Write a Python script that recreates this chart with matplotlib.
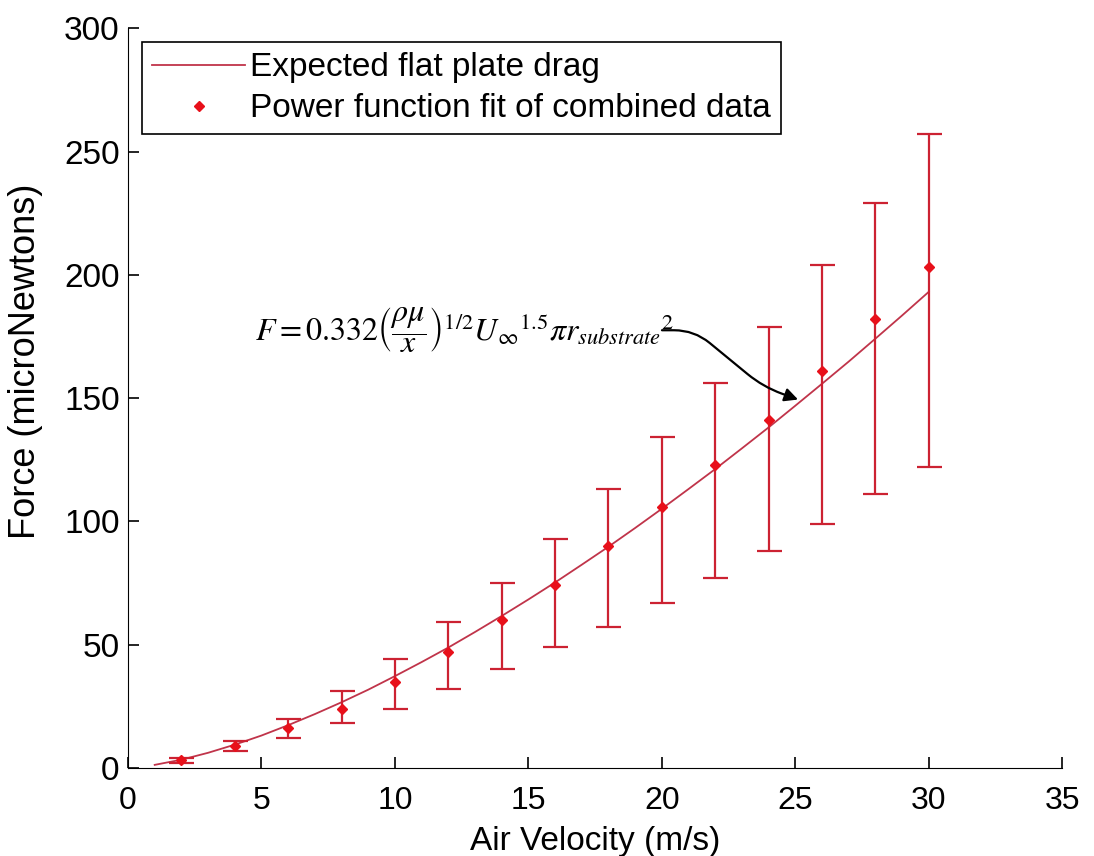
import matplotlib
matplotlib.use("Agg")
import matplotlib.pyplot as plt

plt.rcParams['font.family'] = ['Liberation Sans', 'DejaVu Sans']
plt.rcParams['mathtext.fontset'] = 'stix'

# Expected flat plate drag curve
line_x = list(range(1, 31))
line_y = [1.2, 3.3, 6.1, 9.4, 13.1, 17.3, 21.8, 26.6, 31.7, 37.2,
          42.9, 48.8, 55.1, 61.6, 68.3, 75.2, 82.4, 89.7, 97.3, 105.1,
          113.1, 121.2, 129.6, 138.1, 146.9, 155.8, 164.8, 174.1, 183.5, 193.1]

# Power function fit of combined data, with error bars
vel = [2, 4, 6, 8, 10, 12, 14, 16, 18, 20, 22, 24, 26, 28, 30]
force = [3, 9, 16, 24, 35, 47, 60, 74, 90, 106, 123, 141, 161, 182, 203]
err_lo = [2, 7, 12, 18, 24, 32, 40, 49, 57, 67, 77, 88, 99, 111, 122]
err_hi = [4, 11, 20, 31, 44, 59, 75, 93, 113, 134, 156, 179, 204, 229, 257]

yerr = [[f - lo for f, lo in zip(force, err_lo)],
        [hi - f for f, hi in zip(force, err_hi)]]

fig = plt.figure(figsize=(10.94, 8.56), dpi=100)
ax = fig.add_axes([0.117, 0.103, 0.854, 0.864])

ax.plot(line_x, line_y, color='#c0344a', lw=1.3, label='Expected flat plate drag')
ax.errorbar(vel, force, yerr=yerr, fmt='none', ecolor='#cc2232', elinewidth=1.6,
            capsize=9, capthick=1.6)
ax.plot(vel, force, 'D', color='#e8101a', markersize=5, ls='none',
        label='Power function fit of combined data')

ax.set_xlim(0, 35)
ax.set_ylim(0, 300)
ax.set_xticks(range(0, 36, 5))
ax.set_yticks(range(0, 301, 50))
ax.spines['top'].set_visible(False)
ax.spines['right'].set_visible(False)
ax.tick_params(direction='in', length=8, width=1.2)
ax.tick_params(axis='x', labelsize=23, pad=13)
ax.tick_params(axis='y', labelsize=24, pad=6)
ax.set_xlabel('Air Velocity (m/s)', fontsize=24, labelpad=7)
ax.set_ylabel('Force (microNewtons)', fontsize=26)
ax.yaxis.set_label_coords(-0.091, 0.549)

leg = ax.legend(loc='upper left', bbox_to_anchor=(0.015, 0.981), fontsize=24,
                fancybox=False, framealpha=1, edgecolor='black',
                handlelength=2.8, borderaxespad=0, handletextpad=0.15,
                borderpad=0.3, labelspacing=0.3)
leg.get_frame().set_linewidth(1.2)

formula = (r'$F=0.332\left(\dfrac{\rho\mu}{x}\right)^{1/2}U_{\infty}{}^{1.5}'
           r'\pi r_{substrate}{}^{2}$')
ax.text(4.75, 178, formula, fontsize=23, va='center', ha='left')

ax.annotate('', xy=(25.2, 149), xytext=(19.9, 177.5),
            arrowprops=dict(arrowstyle='-|>,head_length=0.8,head_width=0.4',
                            color='black', lw=1.6,
                            connectionstyle='arc,angleA=0,armA=35,angleB=160,armB=40,rad=20'))

fig.savefig('out.png', dpi=100)
